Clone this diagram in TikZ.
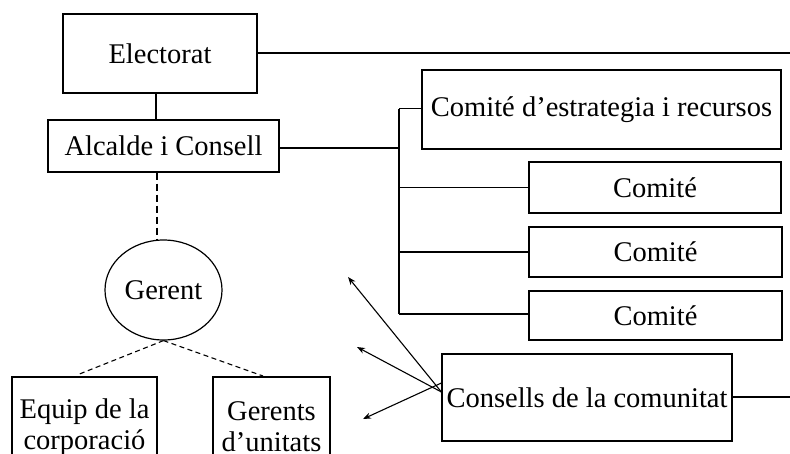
\documentclass[tikz,border=0pt]{standalone}
\usepackage{fontspec}
\setmainfont{Liberation Serif}
\usetikzlibrary{arrows.meta,shapes.geometric}
\begin{document}
\begin{tikzpicture}[x=1pt,y=-1pt,
  every node/.style={font=\fontsize{28.5}{31}\selectfont, inner sep=0pt},
  box/.style={draw, line width=1.2pt, rectangle},
  conn/.style={line width=1.2pt},
  arr/.style={line width=1.1pt, -{Stealth[length=8pt,width=6pt]}},
  thickdash/.style={line width=1.8pt, dash pattern=on 7pt off 4pt},
  thindash/.style={line width=1.1pt, dash pattern=on 5pt off 3.5pt}]
\clip (0,0) rectangle (790,453);
\node[box, minimum width=194pt, minimum height=79pt] (elect) at (160,53.5) {Electorat};
\node[box, minimum width=231pt, minimum height=52pt] (alc) at (163.5,146) {Alcalde i Consell};
\node[box, minimum width=359pt, minimum height=79pt] (strat) at (601.5,109.5) {Comité d’estrategia i recursos};
\node[box, minimum width=252pt, minimum height=51pt] (c1) at (655,187.5) {Comité};
\node[box, minimum width=253pt, minimum height=50pt] (c2) at (655.5,252) {Comité};
\node[box, minimum width=253pt, minimum height=49pt] (c3) at (655.5,315.5) {Comité};
\node[box, minimum width=290pt, minimum height=87pt] (cons) at (587,397.5) {Consells de la comunitat};
\node[draw, line width=1.2pt, ellipse, minimum width=117pt, minimum height=100pt] (ger) at (163.5,290) {Gerent};
\node[box, minimum width=145pt, minimum height=100pt, align=center] (equip) at (84.5,427) {Equip de la\\corporació};
\node[box, minimum width=117pt, minimum height=100pt, align=center] (gu) at (271.5,427) {Gerents\\d’unitats};
\coordinate (eend) at (790,53);
\coordinate (cend) at (790,397);
\coordinate (bustop) at (399,108.5);
\coordinate (busbot) at (399,314);
\coordinate (t1) at (348,277);
\coordinate (t2) at (357,347);
\coordinate (t3) at (363,419);
\draw[conn] (elect.east |- eend) -- (eend);
\draw[conn] ([xshift=-4pt]elect.south) -- ([xshift=-7.5pt]alc.north);
\draw[conn] (alc.east |- 0,148) -- (bustop |- 0,148);
\draw[conn] (bustop) -- (busbot);
\draw[conn] (bustop) -- (strat.west |- bustop);
\draw[conn] (bustop |- c1.west) -- (c1.west);
\draw[conn] (bustop |- c2.west) -- (c2.west);
\draw[conn] (busbot) -- (c3.west |- busbot);
\draw[conn] (cons.east |- cend) -- (cend);
\draw[thickdash] ([xshift=-6.5pt]alc.south) -- ([xshift=-6.5pt]ger.north);
\draw[thindash] (ger.south) -- (77,375);
\draw[thindash] (ger.south) -- (263,376);
\draw[arr] ([yshift=5.5pt]cons.west) -- (t1);
\draw[arr] ([yshift=5.5pt]cons.west) -- (t2);
\draw[arr] ([yshift=14.5pt]cons.west) -- (t3);
\end{tikzpicture}
\end{document}
